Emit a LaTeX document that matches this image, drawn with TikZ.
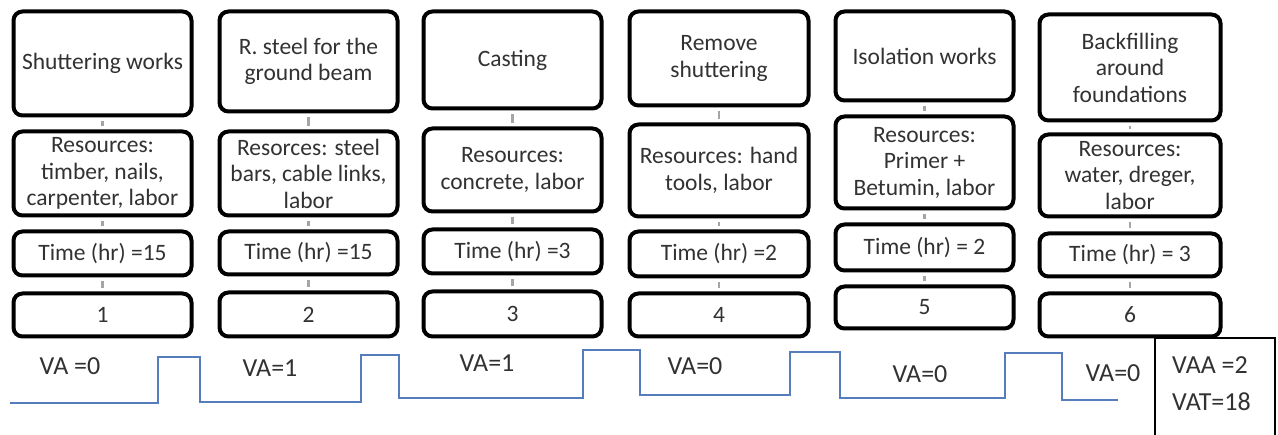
\documentclass[tikz,border=0pt]{standalone}
\usepackage{fontspec}
\setmainfont{Carlito}
\definecolor{txt}{RGB}{50,50,50}
\definecolor{linkgray}{RGB}{165,165,165}
\definecolor{stepblue}{RGB}{85,125,190}
\begin{document}
\begin{tikzpicture}[x=1pt,y=-1pt,
  box/.style={draw=black, line width=4pt, rounded corners=9pt, fill=white,
    align=center, inner sep=1pt, text=txt, font=\fontsize{23.5}{26.5}\selectfont},
  link/.style={draw=linkgray, line width=2.5pt, shorten <=3.5pt, shorten >=3.5pt},
  lbl/.style={text=txt, inner sep=0pt, font=\fontsize{26}{30}\selectfont},
  sumbox/.style={draw=black, line width=1.3pt, fill=white},
  stepline/.style={draw=stepblue, line width=1.3pt}
]
\useasboundingbox[fill=white] (0,0) rectangle (1278,435);

% column 1
\node[box, minimum width=178pt, minimum height=104pt] (t1) at (102.5,63.5) {Shuttering works};
\node[box, minimum width=178pt, minimum height=84pt]  (r1) at (102.5,173.5) {Resources:\\timber, nails,\\carpenter, labor};
\node[box, minimum width=178pt, minimum height=44pt]  (h1) at (102.5,253.5) {Time (hr) =15};
\node[box, minimum width=178pt, minimum height=43pt]  (n1) at (102.5,315) {1};

% column 2
\node[box, minimum width=178pt, minimum height=100pt] (t2) at (308.5,61.5) {R. steel for the\\ground beam};
\node[box, minimum width=178pt, minimum height=84pt]  (r2) at (308.5,173.5) {Resorces: steel\\bars, cable links,\\labor};
\node[box, minimum width=178pt, minimum height=43pt]  (h2) at (308.5,253) {Time (hr) =15};
\node[box, minimum width=178pt, minimum height=44pt]  (n2) at (308.5,314.5) {2};

% column 3
\node[box, minimum width=178pt, minimum height=97pt] (t3) at (512.5,60) {Casting};
\node[box, minimum width=178pt, minimum height=83pt] (r3) at (512.5,170) {Resources:\\concrete, labor};
\node[box, minimum width=178pt, minimum height=44pt] (h3) at (512.5,251.5) {Time (hr) =3};
\node[box, minimum width=178pt, minimum height=45pt] (n3) at (512.5,314) {3};

% column 4
\node[box, minimum width=179pt, minimum height=94pt] (t4) at (719,58.5) {Remove\\shuttering};
\node[box, minimum width=179pt, minimum height=92pt] (r4) at (719,170.5) {Resources: hand\\tools, labor};
\node[box, minimum width=179pt, minimum height=45pt] (h4) at (719,254) {Time (hr) =2};
\node[box, minimum width=179pt, minimum height=43pt] (n4) at (719,315) {4};

% column 5
\node[box, minimum width=178pt, minimum height=89pt] (t5) at (924.5,56) {Isolation works};
\node[box, minimum width=178pt, minimum height=92pt] (r5) at (924.5,162.5) {Resources:\\Primer +\\Betumin, labor};
\node[box, minimum width=178pt, minimum height=46pt] (h5) at (924.5,247.5) {Time (hr) = 2};
\node[box, minimum width=178pt, minimum height=42pt] (n5) at (924.5,307.5) {5};

% column 6
\node[box, minimum width=181pt, minimum height=106pt] (t6) at (1130,67.5) {Backfilling\\around\\foundations};
\node[box, minimum width=181pt, minimum height=82pt]  (r6) at (1130,175.5) {Resources:\\water, dreger,\\labor};
\node[box, minimum width=181pt, minimum height=43pt]  (h6) at (1130,255) {Time (hr) = 3};
\node[box, minimum width=181pt, minimum height=43pt]  (n6) at (1130,315) {6};

% short links inside each column
\foreach \c in {1,...,6}{
  \draw[link] (t\c.south) -- (r\c.north);
  \draw[link] (r\c.south) -- (h\c.north);
  \draw[link] (h\c.south) -- (n\c.north);
}

% stepped float line
\draw[stepline] (10,403) -- (158,403) -- (158,357) -- (200,357) -- (200,402)
  -- (361,402) -- (361,355) -- (399,355) -- (399,398) -- (583,398) -- (583,350)
  -- (640,350) -- (640,395) -- (790,395) -- (790,352) -- (840,352) -- (840,398)
  -- (1005,398) -- (1005,353) -- (1062,353) -- (1062,400) -- (1118,400);

% float values
\node[lbl] (va1) at (70,366) {VA =0};
\node[lbl] (va2) at (270,368) {VA=1};
\node[lbl] (va3) at (487,363) {VA=1};
\node[lbl] (va4) at (695,366) {VA=0};
\node[lbl] (va5) at (920,374) {VA=0};
\node[lbl] (va6) at (1113,373) {VA=0};

% summary box
\node[sumbox, minimum width=120pt, minimum height=120pt] (sum) at (1215,398) {};
\node[lbl, anchor=west] (vaa) at (1172,365) {VAA =2};
\node[lbl, anchor=west] (vat) at (1172,402) {VAT=18};
\end{tikzpicture}
\end{document}
